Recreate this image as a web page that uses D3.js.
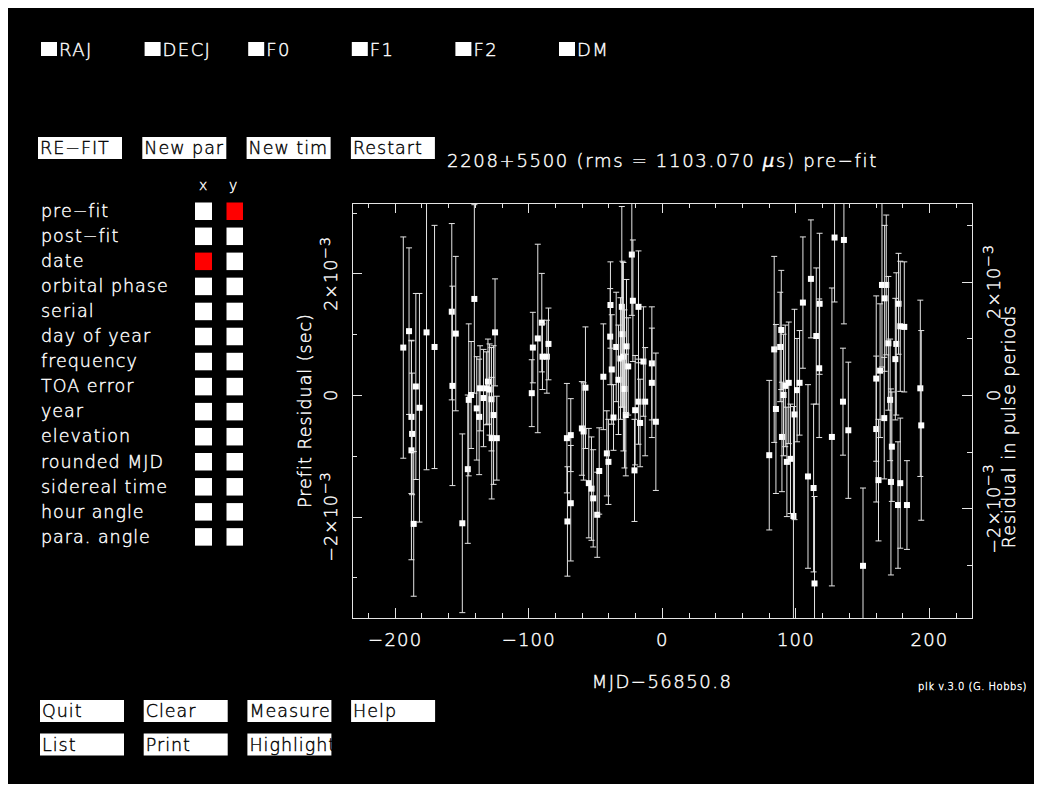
<!DOCTYPE html>
<html>
<head>
<meta charset="utf-8">
<script src="https://cdn.jsdelivr.net/npm/d3@7"></script>
<style>
  body { margin: 0; background: #fff; }
  svg text { font-family: "DejaVu Sans", "Liberation Sans", sans-serif; font-weight: 200; stroke-width: 0.4; }
</style>
</head>
<body>
<div id="content"></div>
<script>
// fit parameters shown as tick boxes along the top
const params = ['RAJ', 'DECJ', 'F0', 'F1', 'F2', 'DM'];
const topButtons = ['RE\u2212FIT', 'New par', 'New tim', 'Restart'];
const axisChoices = ['pre\u2212fit', 'post\u2212fit', 'date', 'orbital phase', 'serial',
  'day of year', 'frequency', 'TOA error', 'year', 'elevation', 'rounded MJD',
  'sidereal time', 'hour angle', 'para. angle'];
const selectedX = 'date';
const selectedY = 'pre\u2212fit';
const bottomButtons = [['Quit', 'Clear', 'Measure', 'Help'], ['List', 'Print', 'Highlight']];

const pulsar = '2208+5500';
const rmsMicro = '1103.070';
const mjdRef = '56850.8';
const period = 0.9332; // s, for the right hand axis

// TOAs: days from reference MJD, pre-fit residual (ms), uncertainty (ms)
const mjdOffset = [
  -193.6, -189.3, -187.5, -187.0, -187.5, -185.8, -184.2, -181.5, -176.2, -170.2,
  -157.3, -154.3, -156.8, -149.4, -145.3, -144.6, -142.8, -140.4, -138.6, -136.8,
  -136.1, -133.5, -131.4, -130.2, -129.0, -127.6, -127.4, -126.0, -124.9, -123.6,
  -97.4, -96.6, -92.9, -89.9, -89.4, -86.1, -84.9,
  -71.1, -70.7, -68.2, -68.2, -59.9, -58.6, -57.2, -54.7, -52.7, -51.4,
  -48.4, -46.9, -43.8, -41.2, -40.0, -38.5, -38.7, -37.5, -36.2, -34.2,
  -32.5, -31.0, -30.0, -29.5, -28.8, -28.0, -27.0, -26.5, -25.2, -22.5,
  -21.7, -20.5, -20.0, -17.5, -17.5, -16.3, -13.8, -12.5, -7.5, -7.5, -4.5,
  80.4, 84.1, 85.4, 88.6, 89.4, 89.9, 91.1, 92.4, 93.6, 95.0,
  96.3, 98.5, 99.3, 101.2, 103.1, 105.6, 109.4, 111.6, 113.6, 114.3,
  115.6, 118.1, 117.8, 127.3, 129.3, 135.6, 136.3, 139.6,
  150.6, 160.5, 160.5, 162.2, 163.4, 164.8, 166.5, 168.0, 166.8, 169.6,
  170.9, 171.5, 172.2, 175.5, 174.8, 177.2, 176.8, 178.5, 181.5, 178.5,
  183.5, 193.5, 194.2
];
const residMs = [
  0.78, 1.05, -0.36, -0.64, -0.91, -2.12, 0.14, -0.21, 1.03, 0.79,
  1.37, 1.01, 0.15, -2.11, -1.22, -0.08, 0.0, 1.58, -0.22, -0.36,
  0.11, -0.05, 0.11, 0.22, 0.09, -0.07, -0.71, -0.33, 1.03, -0.71,
  0.03, 0.78, 0.93, 1.19, 0.63, 0.63, 0.84,
  -0.71, -2.08, -0.66, -1.78, -0.55, -0.60, 0.12, -1.45, -1.54, -1.70,
  -1.97, -1.25, 0.30, -0.96, -1.10, 1.48, 0.96, 0.42, -0.37, 0.79,
  0.25, 0.60, 1.45, 1.00, 0.63, 0.10, -0.33, 0.80, 0.47, 2.31,
  1.55, -1.24, -0.25, 1.45, -0.11, -0.46, 0.55, -0.11, 0.52, 0.20, -0.44,
  -0.99, 0.75, -0.23, 0.79, 1.07, -0.69, 0.00, 0.15, -1.10, 0.20,
  -1.05, -1.99, -0.32, 0.08, 0.20, 1.52, -1.34, 1.91, -1.53, -3.10,
  0.97, 1.50, 0.44, -0.69, 2.59, -0.11, 2.55, -0.58,
  -2.81, -0.56, 0.27, -1.40, 0.40, 1.81, -0.38, 1.81, 1.59, 0.85,
  -0.08, -1.43, -0.85, 0.84, 0.59, 1.50, -1.81, 1.13, 1.12, -1.45,
  -1.81, 0.11, -0.50
];
const errMs = [
  1.82, 1.37, 1.26, 1.00, 1.80, 1.19, 1.53, 1.88, 2.26, 2.00,
  1.45, 1.27, 1.64, 1.47, 1.22, 1.25, 0.88, 1.55, 0.85, 0.95,
  0.70, 0.80, 0.60, 0.70, 0.75, 0.85, 1.00, 1.14, 0.88, 0.69,
  0.55, 0.58, 1.55, 0.81, 0.54, 0.60, 0.59,
  0.90, 0.90, 0.60, 0.95, 0.77, 0.80, 1.00, 0.90, 0.85, 0.80,
  0.70, 0.71, 0.87, 0.70, 0.70, 0.71, 0.79, 0.90, 0.54, 0.90,
  0.90, 1.00, 1.65, 1.20, 1.55, 1.30, 1.00, 1.10, 0.80, 1.00,
  1.00, 0.84, 0.90, 0.92, 0.70, 0.72, 0.90, 0.89, 0.93, 0.90, 1.13,
  1.23, 1.53, 1.39, 0.90, 0.98, 0.90, 1.00, 1.00, 0.90, 1.00,
  0.90, 1.80, 1.73, 0.85, 0.86, 1.08, 1.51, 0.97, 1.38, 1.43,
  1.12, 1.16, 1.14, 2.45, 1.06, 0.88, 1.38, 1.12,
  1.28, 1.20, 1.36, 1.00, 1.10, 1.35, 1.00, 1.15, 1.20, 1.10,
  1.00, 1.53, 0.90, 1.17, 1.00, 0.83, 1.04, 1.07, 1.07, 1.07,
  0.73, 1.45, 1.56
];

const xDomain = [-232, 232.2];
const yDomain = [-3.668e-3, 3.158e-3];
const xMajor = [-200, -100, 0, 100, 200];
const yMajor = [-2e-3, 0, 2e-3];

const W = 1042, H = 792;
const FG = '#e4e4e4';
const TXT = '#ffffff';
const RED = '#ff0000';

const svg = d3.select('#content').append('svg')
  .attr('width', W).attr('height', H);

svg.append('rect')
  .attr('x', 8).attr('y', 8)
  .attr('width', W - 16).attr('height', H - 16)
  .attr('fill', '#000');

const txt = (g, x, y, s, size, sp) => g.append('text')
  .attr('x', x).attr('y', y)
  .attr('fill', TXT).attr('stroke', TXT)
  .attr('font-size', size || 17.5)
  .attr('letter-spacing', sp === undefined ? 1 : sp)
  .text(s);

// --- parameter tick boxes
params.forEach((p, i) => {
  const x0 = 41 + i * 103.6;
  svg.append('rect').attr('x', x0).attr('y', 42).attr('width', 16).attr('height', 14).attr('fill', '#fff');
  txt(svg, x0 + 18, 56, p, 18, 1.4);
});

// --- buttons
const button = (x0, y0, label) => {
  svg.append('rect').attr('x', x0).attr('y', y0).attr('width', 84).attr('height', 22).attr('fill', '#fff');
  svg.append('text').attr('x', x0 + 2).attr('y', y0 + 17)
    .attr('font-size', 17.5).attr('letter-spacing', 1)
    .attr('fill', '#000').attr('stroke', '#000').text(label);
};
topButtons.forEach((b, i) => button(38 + i * 104.3, 137, b));
bottomButtons.forEach((row, j) => row.forEach((b, i) => button(40 + i * 103.7, 700 + j * 33.5, b)));

const title = txt(svg, 447, 167, `${pulsar} (rms = ${rmsMicro} `, 18, 1.7);
title.append('tspan').attr('font-style', 'italic').text('\u03bc');
title.append('tspan').text('s) pre\u2212fit');

// --- axis chooser on the left
txt(svg, 199, 190, 'x', 14);
txt(svg, 229, 190, 'y', 14);
axisChoices.forEach((c, i) => {
  const y0 = 202.5 + i * 25.05;
  txt(svg, 41, y0 + 14.5, c);
  svg.append('rect').attr('x', 195).attr('y', y0).attr('width', 17).attr('height', 17.5)
    .attr('fill', c === selectedX ? RED : '#fff');
  svg.append('rect').attr('x', 226.5).attr('y', y0).attr('width', 16.5).attr('height', 17.5)
    .attr('fill', c === selectedY ? RED : '#fff');
});

// --- residual plot
const plot = { left: 352, right: 972, top: 203, bottom: 618 };
const x = d3.scaleLinear().domain(xDomain).range([plot.left, plot.right]);
const y = d3.scaleLinear().domain(yDomain).range([plot.bottom, plot.top]);
const yP = d3.scaleLinear().domain(yDomain.map(v => v / period)).range([plot.bottom, plot.top]);

const styleAxis = g => {
  g.select('.domain').remove();
  g.selectAll('line').attr('stroke', FG).attr('shape-rendering', 'crispEdges');
  g.selectAll('text').attr('fill', TXT).attr('stroke', TXT)
    .attr('font-size', 18).attr('letter-spacing', 1.2)
    .attr('font-family', null);
};
const minorX = d3.range(-220, 221, 20);
const minorY = d3.range(-3e-3, 3.01e-3, 1e-3);
const axes = [
  [d3.axisBottom(x).tickValues(minorX).tickSize(-5), 0, plot.bottom],
  [d3.axisTop(x).tickValues(minorX).tickSize(-5), 0, plot.top],
  [d3.axisLeft(y).tickValues(minorY).tickSize(-5), plot.left, 0],
  [d3.axisRight(yP).tickValues(minorY).tickSize(-5), plot.right, 0],
  [d3.axisTop(x).tickValues(xMajor).tickSize(-10), 0, plot.top],
  [d3.axisLeft(y).tickValues(yMajor).tickSize(-10), plot.left, 0],
  [d3.axisRight(yP).tickValues(yMajor).tickSize(-10), plot.right, 0],
];
axes.forEach(([ax, tx, ty]) => {
  svg.append('g').attr('transform', `translate(${tx},${ty})`)
    .call(ax.tickFormat(''))
    .call(styleAxis);
});
svg.append('g').attr('transform', `translate(0,${plot.bottom})`)
  .call(d3.axisBottom(x).tickValues(xMajor).tickSize(-10).tickPadding(15))
  .call(styleAxis);

svg.append('rect')
  .attr('x', plot.left).attr('y', plot.top)
  .attr('width', plot.right - plot.left).attr('height', plot.bottom - plot.top)
  .attr('fill', 'none').attr('stroke', FG).attr('shape-rendering', 'crispEdges');

// rotated "2x10^-3" style tick labels
const sciLabel = (g, px, py, v) => {
  const t = g.append('text')
    .attr('transform', `translate(${px},${py}) rotate(-90)`)
    .attr('text-anchor', 'middle').attr('fill', TXT).attr('stroke', TXT)
    .attr('font-size', 17.5).attr('letter-spacing', 1);
  if (v === 0) { t.text('0'); return; }
  const e = Math.floor(Math.log10(Math.abs(v)) + 1e-9);
  const m = Math.round(v / Math.pow(10, e));
  t.append('tspan').text(`${m < 0 ? '\u2212' : ''}${Math.abs(m)}\u00d710`);
  t.append('tspan').attr('dy', -7).attr('font-size', 14).text(`\u2212${Math.abs(e)}`);
};
yMajor.forEach(v => sciLabel(svg, 337, y(v), v));
yMajor.forEach(v => sciLabel(svg, 1000, yP(v), v));

svg.append('text')
  .attr('transform', `translate(311,${(plot.top + plot.bottom) / 2}) rotate(-90)`)
  .attr('text-anchor', 'middle').attr('fill', TXT).attr('stroke', TXT)
  .attr('font-size', 17.5).attr('letter-spacing', 1)
  .text('Prefit Residual (sec)');
svg.append('text')
  .attr('transform', `translate(1015,${(plot.top + plot.bottom) / 2 + 16}) rotate(-90)`)
  .attr('text-anchor', 'middle').attr('fill', TXT).attr('stroke', TXT)
  .attr('font-size', 17.5).attr('letter-spacing', 1)
  .text('Residual in pulse periods');

svg.append('text').attr('x', (plot.left + plot.right) / 2).attr('y', 688)
  .attr('text-anchor', 'middle').attr('fill', TXT).attr('stroke', TXT)
  .attr('font-size', 18).attr('letter-spacing', 1.5)
  .text(`MJD\u2212${mjdRef}`);
svg.append('text').attr('x', 1027).attr('y', 690)
  .attr('text-anchor', 'end').attr('fill', TXT).attr('stroke', TXT)
  .attr('font-size', 10).attr('letter-spacing', 0.5)
  .text('plk v.3.0 (G. Hobbs)');

// --- points with error bars
svg.append('clipPath').attr('id', 'frame').append('rect')
  .attr('x', plot.left).attr('y', plot.top)
  .attr('width', plot.right - plot.left).attr('height', plot.bottom - plot.top);

const toas = mjdOffset.map((t, i) => ({ t, r: residMs[i] * 1e-3, e: errMs[i] * 1e-3 }));
const pts = svg.append('g').attr('clip-path', 'url(#frame)');
const toaSel = pts.selectAll('g.toa').data(toas).enter().append('g').attr('class', 'toa');
toaSel.append('line')
  .attr('x1', d => x(d.t)).attr('x2', d => x(d.t))
  .attr('y1', d => y(d.r - d.e)).attr('y2', d => y(d.r + d.e))
  .attr('stroke', FG).attr('stroke-width', 1);
[-1, 1].forEach(s => {
  toaSel.append('line')
    .attr('x1', d => x(d.t) - 3).attr('x2', d => x(d.t) + 3)
    .attr('y1', d => y(d.r + s * d.e)).attr('y2', d => y(d.r + s * d.e))
    .attr('stroke', FG).attr('stroke-width', 1);
});
toaSel.append('rect')
  .attr('x', d => x(d.t) - 3).attr('y', d => y(d.r) - 3)
  .attr('width', 6).attr('height', 6)
  .attr('fill', '#fff');
</script>
</body>
</html>
